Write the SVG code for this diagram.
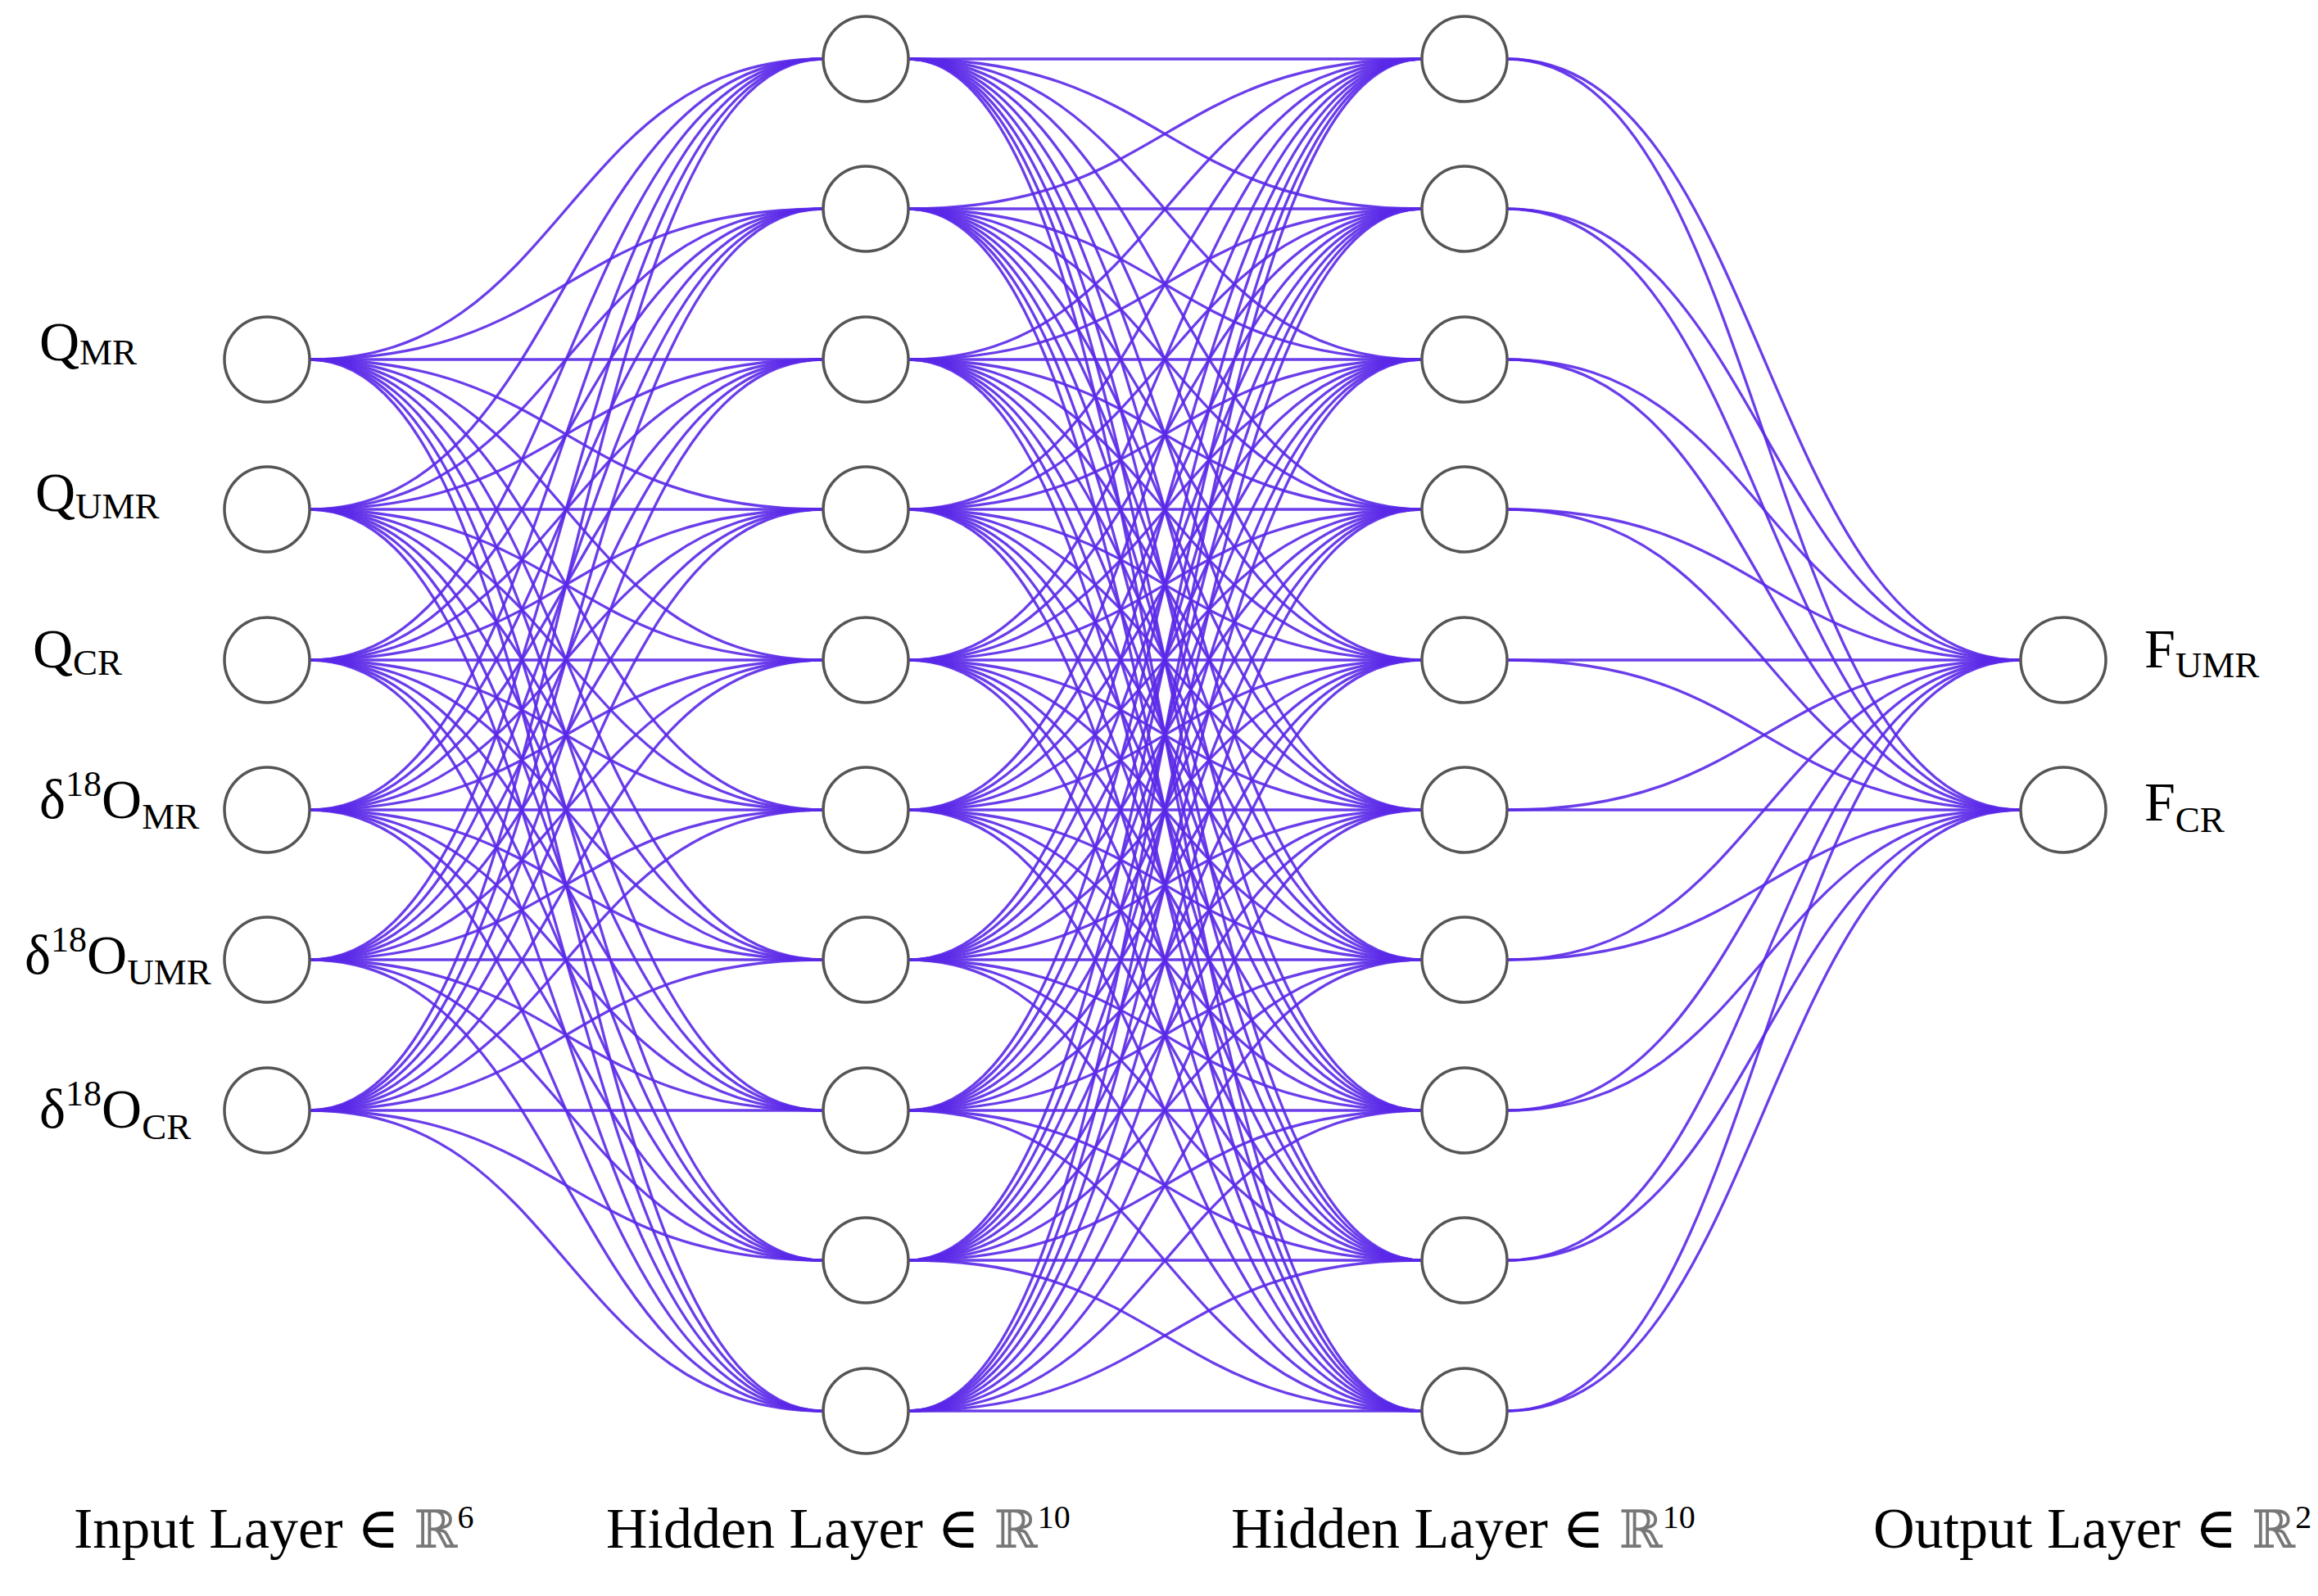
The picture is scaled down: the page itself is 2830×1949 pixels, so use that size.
<svg xmlns="http://www.w3.org/2000/svg" width="2830" height="1949" viewBox="0 0 2830 1949">
<style>
.c path{fill:none;stroke:#5a28e8;stroke-width:3.3;stroke-opacity:0.9}
.n circle{fill:#fff;stroke:#555;stroke-width:3.5}
text{font-family:"Liberation Serif","Times New Roman","DejaVu Serif",serif;fill:#000}
.lb{font-size:68px}
.ax{font-size:70px}
.ds{font-family:"DejaVu Serif","DejaVu Sans",serif;fill:#777;font-size:64px}
</style>
<rect width="2830" height="1949" fill="#fff"/>
<g id="connectors" class="c">
<path d="M378 439C691 439 691 72 1005 72"/><path d="M378 439C691 439 691 255 1005 255"/><path d="M378 439C691 439 691 439 1005 439"/><path d="M378 439C691 439 691 622 1005 622"/><path d="M378 439C691 439 691 806 1005 806"/><path d="M378 439C691 439 691 989 1005 989"/><path d="M378 439C691 439 691 1172 1005 1172"/><path d="M378 439C691 439 691 1356 1005 1356"/><path d="M378 439C691 439 691 1539 1005 1539"/><path d="M378 439C691 439 691 1723 1005 1723"/>
<path d="M378 622C691 622 691 72 1005 72"/><path d="M378 622C691 622 691 255 1005 255"/><path d="M378 622C691 622 691 439 1005 439"/><path d="M378 622C691 622 691 622 1005 622"/><path d="M378 622C691 622 691 806 1005 806"/><path d="M378 622C691 622 691 989 1005 989"/><path d="M378 622C691 622 691 1172 1005 1172"/><path d="M378 622C691 622 691 1356 1005 1356"/><path d="M378 622C691 622 691 1539 1005 1539"/><path d="M378 622C691 622 691 1723 1005 1723"/>
<path d="M378 806C691 806 691 72 1005 72"/><path d="M378 806C691 806 691 255 1005 255"/><path d="M378 806C691 806 691 439 1005 439"/><path d="M378 806C691 806 691 622 1005 622"/><path d="M378 806C691 806 691 806 1005 806"/><path d="M378 806C691 806 691 989 1005 989"/><path d="M378 806C691 806 691 1172 1005 1172"/><path d="M378 806C691 806 691 1356 1005 1356"/><path d="M378 806C691 806 691 1539 1005 1539"/><path d="M378 806C691 806 691 1723 1005 1723"/>
<path d="M378 989C691 989 691 72 1005 72"/><path d="M378 989C691 989 691 255 1005 255"/><path d="M378 989C691 989 691 439 1005 439"/><path d="M378 989C691 989 691 622 1005 622"/><path d="M378 989C691 989 691 806 1005 806"/><path d="M378 989C691 989 691 989 1005 989"/><path d="M378 989C691 989 691 1172 1005 1172"/><path d="M378 989C691 989 691 1356 1005 1356"/><path d="M378 989C691 989 691 1539 1005 1539"/><path d="M378 989C691 989 691 1723 1005 1723"/>
<path d="M378 1172C691 1172 691 72 1005 72"/><path d="M378 1172C691 1172 691 255 1005 255"/><path d="M378 1172C691 1172 691 439 1005 439"/><path d="M378 1172C691 1172 691 622 1005 622"/><path d="M378 1172C691 1172 691 806 1005 806"/><path d="M378 1172C691 1172 691 989 1005 989"/><path d="M378 1172C691 1172 691 1172 1005 1172"/><path d="M378 1172C691 1172 691 1356 1005 1356"/><path d="M378 1172C691 1172 691 1539 1005 1539"/><path d="M378 1172C691 1172 691 1723 1005 1723"/>
<path d="M378 1356C691 1356 691 72 1005 72"/><path d="M378 1356C691 1356 691 255 1005 255"/><path d="M378 1356C691 1356 691 439 1005 439"/><path d="M378 1356C691 1356 691 622 1005 622"/><path d="M378 1356C691 1356 691 806 1005 806"/><path d="M378 1356C691 1356 691 989 1005 989"/><path d="M378 1356C691 1356 691 1172 1005 1172"/><path d="M378 1356C691 1356 691 1356 1005 1356"/><path d="M378 1356C691 1356 691 1539 1005 1539"/><path d="M378 1356C691 1356 691 1723 1005 1723"/>
<path d="M1109 72C1422 72 1422 72 1736 72"/><path d="M1109 72C1422 72 1422 255 1736 255"/><path d="M1109 72C1422 72 1422 439 1736 439"/><path d="M1109 72C1422 72 1422 622 1736 622"/><path d="M1109 72C1422 72 1422 806 1736 806"/><path d="M1109 72C1422 72 1422 989 1736 989"/><path d="M1109 72C1422 72 1422 1172 1736 1172"/><path d="M1109 72C1422 72 1422 1356 1736 1356"/><path d="M1109 72C1422 72 1422 1539 1736 1539"/><path d="M1109 72C1422 72 1422 1723 1736 1723"/>
<path d="M1109 255C1422 255 1422 72 1736 72"/><path d="M1109 255C1422 255 1422 255 1736 255"/><path d="M1109 255C1422 255 1422 439 1736 439"/><path d="M1109 255C1422 255 1422 622 1736 622"/><path d="M1109 255C1422 255 1422 806 1736 806"/><path d="M1109 255C1422 255 1422 989 1736 989"/><path d="M1109 255C1422 255 1422 1172 1736 1172"/><path d="M1109 255C1422 255 1422 1356 1736 1356"/><path d="M1109 255C1422 255 1422 1539 1736 1539"/><path d="M1109 255C1422 255 1422 1723 1736 1723"/>
<path d="M1109 439C1422 439 1422 72 1736 72"/><path d="M1109 439C1422 439 1422 255 1736 255"/><path d="M1109 439C1422 439 1422 439 1736 439"/><path d="M1109 439C1422 439 1422 622 1736 622"/><path d="M1109 439C1422 439 1422 806 1736 806"/><path d="M1109 439C1422 439 1422 989 1736 989"/><path d="M1109 439C1422 439 1422 1172 1736 1172"/><path d="M1109 439C1422 439 1422 1356 1736 1356"/><path d="M1109 439C1422 439 1422 1539 1736 1539"/><path d="M1109 439C1422 439 1422 1723 1736 1723"/>
<path d="M1109 622C1422 622 1422 72 1736 72"/><path d="M1109 622C1422 622 1422 255 1736 255"/><path d="M1109 622C1422 622 1422 439 1736 439"/><path d="M1109 622C1422 622 1422 622 1736 622"/><path d="M1109 622C1422 622 1422 806 1736 806"/><path d="M1109 622C1422 622 1422 989 1736 989"/><path d="M1109 622C1422 622 1422 1172 1736 1172"/><path d="M1109 622C1422 622 1422 1356 1736 1356"/><path d="M1109 622C1422 622 1422 1539 1736 1539"/><path d="M1109 622C1422 622 1422 1723 1736 1723"/>
<path d="M1109 806C1422 806 1422 72 1736 72"/><path d="M1109 806C1422 806 1422 255 1736 255"/><path d="M1109 806C1422 806 1422 439 1736 439"/><path d="M1109 806C1422 806 1422 622 1736 622"/><path d="M1109 806C1422 806 1422 806 1736 806"/><path d="M1109 806C1422 806 1422 989 1736 989"/><path d="M1109 806C1422 806 1422 1172 1736 1172"/><path d="M1109 806C1422 806 1422 1356 1736 1356"/><path d="M1109 806C1422 806 1422 1539 1736 1539"/><path d="M1109 806C1422 806 1422 1723 1736 1723"/>
<path d="M1109 989C1422 989 1422 72 1736 72"/><path d="M1109 989C1422 989 1422 255 1736 255"/><path d="M1109 989C1422 989 1422 439 1736 439"/><path d="M1109 989C1422 989 1422 622 1736 622"/><path d="M1109 989C1422 989 1422 806 1736 806"/><path d="M1109 989C1422 989 1422 989 1736 989"/><path d="M1109 989C1422 989 1422 1172 1736 1172"/><path d="M1109 989C1422 989 1422 1356 1736 1356"/><path d="M1109 989C1422 989 1422 1539 1736 1539"/><path d="M1109 989C1422 989 1422 1723 1736 1723"/>
<path d="M1109 1172C1422 1172 1422 72 1736 72"/><path d="M1109 1172C1422 1172 1422 255 1736 255"/><path d="M1109 1172C1422 1172 1422 439 1736 439"/><path d="M1109 1172C1422 1172 1422 622 1736 622"/><path d="M1109 1172C1422 1172 1422 806 1736 806"/><path d="M1109 1172C1422 1172 1422 989 1736 989"/><path d="M1109 1172C1422 1172 1422 1172 1736 1172"/><path d="M1109 1172C1422 1172 1422 1356 1736 1356"/><path d="M1109 1172C1422 1172 1422 1539 1736 1539"/><path d="M1109 1172C1422 1172 1422 1723 1736 1723"/>
<path d="M1109 1356C1422 1356 1422 72 1736 72"/><path d="M1109 1356C1422 1356 1422 255 1736 255"/><path d="M1109 1356C1422 1356 1422 439 1736 439"/><path d="M1109 1356C1422 1356 1422 622 1736 622"/><path d="M1109 1356C1422 1356 1422 806 1736 806"/><path d="M1109 1356C1422 1356 1422 989 1736 989"/><path d="M1109 1356C1422 1356 1422 1172 1736 1172"/><path d="M1109 1356C1422 1356 1422 1356 1736 1356"/><path d="M1109 1356C1422 1356 1422 1539 1736 1539"/><path d="M1109 1356C1422 1356 1422 1723 1736 1723"/>
<path d="M1109 1539C1422 1539 1422 72 1736 72"/><path d="M1109 1539C1422 1539 1422 255 1736 255"/><path d="M1109 1539C1422 1539 1422 439 1736 439"/><path d="M1109 1539C1422 1539 1422 622 1736 622"/><path d="M1109 1539C1422 1539 1422 806 1736 806"/><path d="M1109 1539C1422 1539 1422 989 1736 989"/><path d="M1109 1539C1422 1539 1422 1172 1736 1172"/><path d="M1109 1539C1422 1539 1422 1356 1736 1356"/><path d="M1109 1539C1422 1539 1422 1539 1736 1539"/><path d="M1109 1539C1422 1539 1422 1723 1736 1723"/>
<path d="M1109 1723C1422 1723 1422 72 1736 72"/><path d="M1109 1723C1422 1723 1422 255 1736 255"/><path d="M1109 1723C1422 1723 1422 439 1736 439"/><path d="M1109 1723C1422 1723 1422 622 1736 622"/><path d="M1109 1723C1422 1723 1422 806 1736 806"/><path d="M1109 1723C1422 1723 1422 989 1736 989"/><path d="M1109 1723C1422 1723 1422 1172 1736 1172"/><path d="M1109 1723C1422 1723 1422 1356 1736 1356"/><path d="M1109 1723C1422 1723 1422 1539 1736 1539"/><path d="M1109 1723C1422 1723 1422 1723 1736 1723"/>
<path d="M1840 72C2154 72 2154 806 2467 806"/><path d="M1840 72C2154 72 2154 989 2467 989"/>
<path d="M1840 255C2154 255 2154 806 2467 806"/><path d="M1840 255C2154 255 2154 989 2467 989"/>
<path d="M1840 439C2154 439 2154 806 2467 806"/><path d="M1840 439C2154 439 2154 989 2467 989"/>
<path d="M1840 622C2154 622 2154 806 2467 806"/><path d="M1840 622C2154 622 2154 989 2467 989"/>
<path d="M1840 806C2154 806 2154 806 2467 806"/><path d="M1840 806C2154 806 2154 989 2467 989"/>
<path d="M1840 989C2154 989 2154 806 2467 806"/><path d="M1840 989C2154 989 2154 989 2467 989"/>
<path d="M1840 1172C2154 1172 2154 806 2467 806"/><path d="M1840 1172C2154 1172 2154 989 2467 989"/>
<path d="M1840 1356C2154 1356 2154 806 2467 806"/><path d="M1840 1356C2154 1356 2154 989 2467 989"/>
<path d="M1840 1539C2154 1539 2154 806 2467 806"/><path d="M1840 1539C2154 1539 2154 989 2467 989"/>
<path d="M1840 1723C2154 1723 2154 806 2467 806"/><path d="M1840 1723C2154 1723 2154 989 2467 989"/>
</g>
<g class="n">
<g id="in1"><circle cx="326" cy="439" r="52"/><text class="lb" x="48" y="440">Q<tspan font-size="45" dy="5">MR</tspan></text></g>
<g id="in2"><circle cx="326" cy="622" r="52"/><text class="lb" x="43" y="624">Q<tspan font-size="45" dy="9">UMR</tspan></text></g>
<g id="in3"><circle cx="326" cy="806" r="52"/><text class="lb" x="40" y="815">Q<tspan font-size="45" dy="9">CR</tspan></text></g>
<g id="in4"><circle cx="326" cy="989" r="52"/><text class="lb" x="48" y="999">δ<tspan font-size="44" dy="-27">18</tspan><tspan dy="27">O</tspan><tspan font-size="45" dy="13">MR</tspan></text></g>
<g id="in5"><circle cx="326" cy="1172" r="52"/><text class="lb" x="30" y="1189">δ<tspan font-size="44" dy="-27">18</tspan><tspan dy="27">O</tspan><tspan font-size="45" dy="13">UMR</tspan></text></g>
<g id="in6"><circle cx="326" cy="1356" r="52"/><text class="lb" x="48" y="1377">δ<tspan font-size="44" dy="-27">18</tspan><tspan dy="27">O</tspan><tspan font-size="45" dy="14">CR</tspan></text></g>
<g id="h1_1"><circle cx="1057" cy="72" r="52"/></g>
<g id="h1_2"><circle cx="1057" cy="255" r="52"/></g>
<g id="h1_3"><circle cx="1057" cy="439" r="52"/></g>
<g id="h1_4"><circle cx="1057" cy="622" r="52"/></g>
<g id="h1_5"><circle cx="1057" cy="806" r="52"/></g>
<g id="h1_6"><circle cx="1057" cy="989" r="52"/></g>
<g id="h1_7"><circle cx="1057" cy="1172" r="52"/></g>
<g id="h1_8"><circle cx="1057" cy="1356" r="52"/></g>
<g id="h1_9"><circle cx="1057" cy="1539" r="52"/></g>
<g id="h1_10"><circle cx="1057" cy="1723" r="52"/></g>
<g id="h2_1"><circle cx="1788" cy="72" r="52"/></g>
<g id="h2_2"><circle cx="1788" cy="255" r="52"/></g>
<g id="h2_3"><circle cx="1788" cy="439" r="52"/></g>
<g id="h2_4"><circle cx="1788" cy="622" r="52"/></g>
<g id="h2_5"><circle cx="1788" cy="806" r="52"/></g>
<g id="h2_6"><circle cx="1788" cy="989" r="52"/></g>
<g id="h2_7"><circle cx="1788" cy="1172" r="52"/></g>
<g id="h2_8"><circle cx="1788" cy="1356" r="52"/></g>
<g id="h2_9"><circle cx="1788" cy="1539" r="52"/></g>
<g id="h2_10"><circle cx="1788" cy="1723" r="52"/></g>
<g id="out1"><circle cx="2519" cy="806" r="52"/><text class="lb" x="2618" y="815">F<tspan font-size="45" dy="12">UMR</tspan></text></g>
<g id="out2"><circle cx="2519" cy="989" r="52"/><text class="lb" x="2618" y="1002">F<tspan font-size="45" dy="14">CR</tspan></text></g>
</g>
<g id="axis-labels">
<text class="ax" x="90" y="1890">Input Layer ∈ <tspan class="ds">ℝ</tspan><tspan font-size="40" dy="-24">6</tspan></text>
<text class="ax" x="740" y="1890">Hidden Layer ∈ <tspan class="ds">ℝ</tspan><tspan font-size="40" dy="-24">10</tspan></text>
<text class="ax" x="1503" y="1890">Hidden Layer ∈ <tspan class="ds">ℝ</tspan><tspan font-size="40" dy="-24">10</tspan></text>
<text class="ax" x="2287" y="1890">Output Layer ∈ <tspan class="ds">ℝ</tspan><tspan font-size="40" dy="-24">2</tspan></text>
</g>
</svg>
